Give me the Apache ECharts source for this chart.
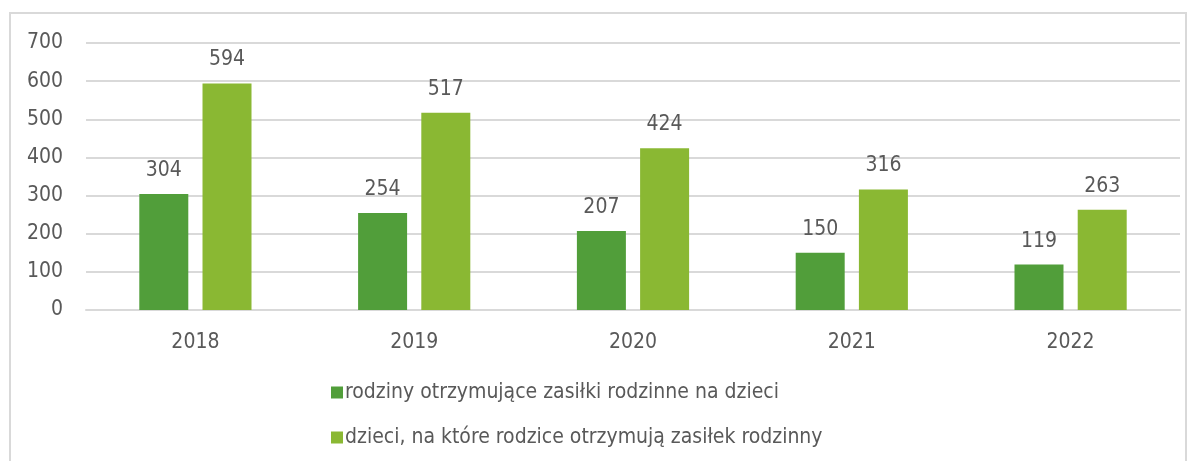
<!DOCTYPE html>
<html>
<head>
<meta charset="utf-8">
<script src="https://cdn.jsdelivr.net/npm/echarts@6/dist/echarts.min.js"></script>
<style>
  html, body { margin: 0; padding: 0; background: #fff; }
  #chart { width: 1195px; height: 461px; }
</style>
</head>
<body>
<div id="chart"></div>
<script>
const years = ["2018", "2019", "2020", "2021", "2022"];
const families = [304, 254, 207, 150, 119];
const children = [594, 517, 424, 316, 263];
const seriesNames = [
  "rodziny otrzymujące zasiłki rodzinne na dzieci",
  "dzieci, na które rodzice otrzymują zasiłek rodzinny"
];

const font = "'DejaVu Sans Condensed', 'DejaVu Sans'";
const textColor = "#595959";
const fs = 21;

const chart = echarts.init(document.getElementById("chart"));

const labelStyle = {
  show: true,
  position: "top",
  distance: 13,
  color: textColor,
  fontFamily: font,
  fontSize: fs
};

chart.setOption({
  animation: false,
  graphic: [{
    type: "rect",
    shape: { x: 10, y: 13, width: 1176, height: 470 },
    style: { fill: "none", stroke: "#D9D9D9", lineWidth: 2 },
    silent: true
  }],
  grid: { left: 86, right: 15, top: 43, bottom: 151 },
  legend: {
    orient: "vertical",
    left: 326,
    top: 377,
    itemGap: 24,
    itemWidth: 12,
    itemHeight: 12,
    icon: "rect",
    textStyle: { color: textColor, fontFamily: font, fontSize: fs, padding: [0, 0, 0, -3] },
    data: seriesNames
  },
  xAxis: {
    type: "category",
    data: years,
    axisLine: { lineStyle: { color: "#D9D9D9", width: 2 } },
    axisTick: { show: false },
    axisLabel: { color: textColor, fontFamily: font, fontSize: fs, margin: 22 }
  },
  yAxis: {
    type: "value",
    min: 0,
    max: 700,
    interval: 100,
    axisLine: { show: false },
    axisTick: { show: false },
    splitLine: { lineStyle: { color: "#D9D9D9", width: 2 } },
    axisLabel: { color: textColor, fontFamily: font, fontSize: fs, margin: 23 }
  },
  series: [
    {
      name: seriesNames[0],
      type: "bar",
      data: families,
      barWidth: 49,
      barGap: "29%",
      itemStyle: { color: "#519E3A" },
      label: labelStyle
    },
    {
      name: seriesNames[1],
      type: "bar",
      data: children,
      barWidth: 49,
      itemStyle: { color: "#8AB833" },
      label: labelStyle
    }
  ]
});
</script>
</body>
</html>
